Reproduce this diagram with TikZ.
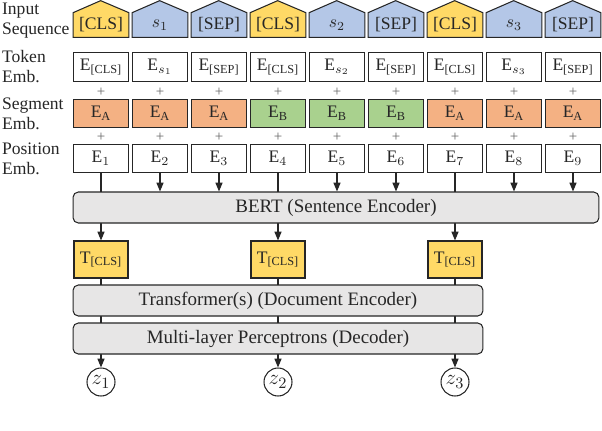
\documentclass[tikz,border=0pt]{standalone}
\usepackage{amsmath}
\usepackage{fontspec}
\setmainfont{Liberation Serif}
\usetikzlibrary{arrows.meta,positioning,backgrounds,calc}

\definecolor{clsyellow}{HTML}{FFD966}
\definecolor{sentblue}{HTML}{B4C7E7}
\definecolor{segorange}{HTML}{F4B183}
\definecolor{seggreen}{HTML}{A9D18E}
\definecolor{encgray}{HTML}{E7E6E6}

\begin{document}
\begin{tikzpicture}[
  x=0.02cm, y=-0.02cm,
  font=\fontsize{10}{11.4}\selectfont,
  every node/.style={text=black!85},
  emb/.style={draw=black!85, line width=0.6pt, minimum width=1.1cm,
    minimum height=0.57cm, inner sep=0pt},
  inp/.style={minimum width=1.1cm, minimum height=0.48cm, inner sep=0pt},
  house/.style={draw=black!85, line width=0.6pt},
  enc/.style={draw=black!85, line width=0.6pt, fill=encgray, rounded corners=3pt,
    inner sep=0pt, minimum height=0.62cm, font=\fontsize{10.8}{12}\selectfont},
  clsbox/.style={emb, fill=clsyellow, minimum width=1.08cm, minimum height=0.74cm},
  zout/.style={circle, draw=black!85, line width=0.6pt, minimum size=0.56cm,
    inner sep=0pt, font=\fontsize{12.5}{13}\selectfont},
  plus/.style={text=black!60, font=\fontsize{8.5}{8.5}\selectfont, inner sep=0pt},
  lbl/.style={anchor=west, align=left, inner sep=1pt},
  flow/.style={-{Triangle[length=5pt,width=4pt]}, line width=0.6pt, draw=black!85},
]
  \useasboundingbox (0,0) rectangle (602,430);

  % --- row labels ------------------------------------------------------
  \node[lbl] (lin)  at (0,21)    {Input\\Sequence};
  \node[lbl] (ltok) at (0,67)    {Token\\Emb.};
  \node[lbl] (lseg) at (0,113.5) {Segment\\Emb.};
  \node[lbl] (lpos) at (0,158.5) {Position\\Emb.};

  % --- the nine input columns ------------------------------------------
  \foreach \i/\inp/\tok/\seg/\sc in {
      1/{[CLS]}/{E$_{\text{[CLS]}}$}/A/segorange,
      2/{$s_1$}/{E$_{s_1}$}/A/segorange,
      3/{[SEP]}/{E$_{\text{[SEP]}}$}/A/segorange,
      4/{[CLS]}/{E$_{\text{[CLS]}}$}/B/seggreen,
      5/{$s_2$}/{E$_{s_2}$}/B/seggreen,
      6/{[SEP]}/{E$_{\text{[SEP]}}$}/B/seggreen,
      7/{[CLS]}/{E$_{\text{[CLS]}}$}/A/segorange,
      8/{$s_3$}/{E$_{s_3}$}/A/segorange,
      9/{[SEP]}/{E$_{\text{[SEP]}}$}/A/segorange} {
    \pgfmathsetmacro\x{101+59*(\i-1)}
    \node[inp] (in\i) at (\x,25) {\inp};
    \node[emb] (tok\i) at (\x,67) {\tok};
    \node[plus] (pa\i) at (\x,92) {+};
    \node[emb, fill=\sc] (seg\i) at (\x,113.5) {E$_{\text{\seg}}$};
    \node[plus] (pb\i) at (\x,137) {+};
    \node[emb] (pos\i) at (\x,158.5) {E$_{\i}$};
  }

  % --- encoders --------------------------------------------------------
  \node[enc, minimum width=10.52cm] (bert) at (336,207.5) {BERT (Sentence Encoder)};
  \node[clsbox] (t1) at (101,259.5) {T$_{\text{[CLS]}}$};
  \node[clsbox] (t4) at (278,259.5) {T$_{\text{[CLS]}}$};
  \node[clsbox] (t7) at (455,259.5) {T$_{\text{[CLS]}}$};
  \node[enc, minimum width=8.2cm] (doc) at (278,300.5) {Transformer(s) (Document Encoder)};
  \node[enc, minimum width=8.2cm] (mlp) at (278,338.5) {Multi-layer Perceptrons (Decoder)};
  \node[zout] (z1) at (101,382) {$z_1$};
  \node[zout] (z4) at (278,382) {$z_2$};
  \node[zout] (z7) at (455,382) {$z_3$};

  % --- arrows into BERT ------------------------------------------------
  \foreach \i in {2,3,5,6,8,9}
    \draw[flow] (pos\i.south) -- (pos\i.south |- bert.north);

  \begin{scope}[on background layer]
    % house shapes of the input tokens
    \foreach \i/\ic in {1/clsyellow,2/sentblue,3/sentblue,4/clsyellow,5/sentblue,
        6/sentblue,7/clsyellow,8/sentblue,9/sentblue}
      \draw[house, fill=\ic] (in\i.south west) -- (in\i.north west) -- ++(27.5,-12)
        -- (in\i.north east) -- (in\i.south east) -- cycle;
    % [CLS] paths run behind the encoders
    \foreach \i in {1,4,7} {
      \draw[flow] (pos\i.south) -- (t\i.north);
      \draw[flow] (t\i.south) -- (z\i.north);
    }
  \end{scope}
\end{tikzpicture}
\end{document}
